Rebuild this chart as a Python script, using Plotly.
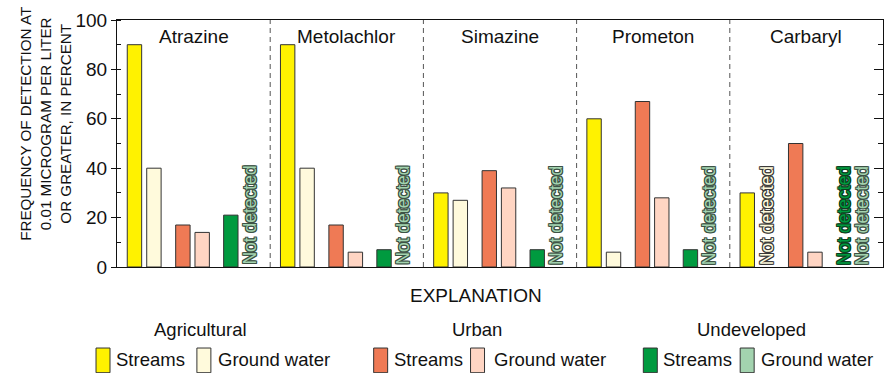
import plotly.graph_objects as go

# Pesticides and detection frequencies (percent), None = not detected
pesticides = ["Atrazine", "Metolachlor", "Simazine", "Prometon", "Carbaryl"]
ag_streams = [90, 90, 30, 60, 30]
ag_ground = [40, 40, 27, 6, None]
urban_streams = [17, 17, 39, 67, 50]
urban_ground = [14, 6, 32, 28, 6]
undev_streams = [21, 7, 7, 7, None]
undev_ground = [None, None, None, None, None]

y_ticks = [0, 20, 40, 60, 80, 100]

FONT = "Liberation Sans, Arial, Helvetica, sans-serif"

# series definitions: values, fill colour, slot offset within a panel
series = [
    ("Agricultural", "Streams", ag_streams, "#FFF200", 0.114),
    ("Agricultural", "Ground water", ag_ground, "#FFFADC", 0.241),
    ("Urban", "Streams", urban_streams, "#EF7A55", 0.430),
    ("Urban", "Ground water", urban_ground, "#FFD5C3", 0.556),
    ("Undeveloped", "Streams", undev_streams, "#009A3F", 0.743),
    ("Undeveloped", "Ground water", undev_ground, "#A3D3AF", 0.862),
]
BAR_W = 0.094

# text styling for "Not detected" labels per series
nd_style = {
    ("Agricultural", "Ground water"): ("#FFFADC", "#3a3a3a"),
    ("Undeveloped", "Streams"): ("#009A3F", "#0b4020"),
    ("Undeveloped", "Ground water"): ("#A3D3AF", "#3c5244"),
}

# plot-area geometry in pixels (used for the explanation block)
L, T, PW, PH = 117, 17, 767, 250
FIG_W, FIG_H = 894, 373


def px_x(px):
    return (px - L) / PW


def px_y(py):
    return (T + PH - py) / PH


fig = go.Figure()
annotations = []
shapes = []

for group, kind, values, color, offset in series:
    xs, ys = [], []
    for i, v in enumerate(values):
        if v is None:
            fill, edge = nd_style[(group, kind)]
            shadow = ", ".join(
                f"{dx}px {dy}px 0 {edge}"
                for dx, dy in [(1, 0), (-1, 0), (0, 1), (0, -1), (1, 1), (-1, -1), (1, -1), (-1, 1)]
            )
            annotations.append(dict(
                x=i + offset, y=0, xref="x", yref="y",
                text="Not detected", textangle=-90, showarrow=False,
                xanchor="center", yanchor="bottom",
                font=dict(family=FONT, size=17.5, color=fill, shadow=shadow),
            ))
        else:
            xs.append(i + offset)
            ys.append(v)
    fig.add_trace(go.Bar(
        x=xs, y=ys, width=BAR_W, name=f"{group} {kind}",
        marker=dict(color=color, line=dict(color="#333333", width=1)),
        showlegend=False, hoverinfo="skip",
    ))

# panel titles and dashed separators
for i, name in enumerate(pesticides):
    annotations.append(dict(
        x=i + 0.5, y=1, xref="x", yref="paper", yanchor="top", yshift=-4,
        text=name, showarrow=False, font=dict(family=FONT, size=19, color="#111"),
    ))
    if i > 0:
        shapes.append(dict(
            type="line", xref="x", yref="paper", x0=i, x1=i, y0=0, y1=1,
            line=dict(color="#555555", width=1, dash="5px,4px"),
        ))

# y-axis title (three lines)
annotations.append(dict(
    x=px_x(46), y=px_y(122), xref="paper", yref="paper",
    text="FREQUENCY OF DETECTION AT<br>0.01 MICROGRAM PER LITER<br>OR GREATER, IN PERCENT",
    textangle=-90, showarrow=False, xanchor="center", yanchor="middle",
    font=dict(family=FONT, size=15.2, color="#111"),
))

# explanation block
annotations.append(dict(
    x=px_x(476), y=px_y(296), xref="paper", yref="paper", text="EXPLANATION",
    showarrow=False, xanchor="center", yanchor="middle",
    font=dict(family=FONT, size=19, color="#111"),
))

legend_groups = [
    ("Agricultural", 201, [(96, 114, "#FFF200", "Streams"), (197, 216, "#FFFADC", "Ground water")]),
    ("Urban", 477, [(374, 392, "#EF7A55", "Streams"), (471, 492, "#FFD5C3", "Ground water")]),
    ("Undeveloped", 752, [(644, 662, "#009A3F", "Streams"), (741, 760, "#A3D3AF", "Ground water")]),
]
for title, cx, items in legend_groups:
    annotations.append(dict(
        x=px_x(cx), y=px_y(330), xref="paper", yref="paper", text=title,
        showarrow=False, xanchor="center", yanchor="middle",
        font=dict(family=FONT, size=18.5, color="#111"),
    ))
    for sx, tx, col, label in items:
        shapes.append(dict(
            type="rect", xref="paper", yref="paper",
            x0=px_x(sx), x1=px_x(sx + 14), y0=px_y(349), y1=px_y(374),
            fillcolor=col, line=dict(color="#333333", width=1),
        ))
        annotations.append(dict(
            x=px_x(tx), y=px_y(361), xref="paper", yref="paper", text=label,
            showarrow=False, xanchor="left", yanchor="middle",
            font=dict(family=FONT, size=18.5, color="#111"),
        ))

fig.update_layout(
    width=FIG_W, height=FIG_H,
    margin=dict(l=L, r=FIG_W - L - PW, t=T, b=FIG_H - T - PH),
    paper_bgcolor="white", plot_bgcolor="white",
    font=dict(family=FONT, size=18, color="#111"),
    annotations=annotations, shapes=shapes,
    barmode="overlay",
    xaxis=dict(
        range=[0, len(pesticides)], showticklabels=False, ticks="",
        showgrid=False, zeroline=False,
        showline=True, mirror=True, linecolor="#111", linewidth=1,
    ),
    yaxis=dict(
        range=[0, 100], tickvals=y_ticks, ticks="outside", ticklen=5,
        tickcolor="#111", tickwidth=1,
        minor=dict(dtick=10, ticks="inside", ticklen=4, tickcolor="#111", showgrid=False),
        showgrid=False, zeroline=False,
        showline=True, mirror=True, linecolor="#111", linewidth=1,
        tickfont=dict(family=FONT, size=19, color="#111"),
    ),
    yaxis2=dict(
        range=[0, 100], overlaying="y", side="right", tickvals=y_ticks,
        ticks="inside", ticklen=9, tickcolor="#111", showticklabels=False,
        minor=dict(dtick=10, ticks="inside", ticklen=5, tickcolor="#111", showgrid=False),
        showgrid=False, zeroline=False, showline=False,
    ),
)

# invisible trace to activate the right-hand tick axis
fig.add_trace(go.Scatter(x=[0], y=[0], yaxis="y2", mode="markers",
                         marker=dict(opacity=0), showlegend=False, hoverinfo="skip"))

fig.write_html("out.html")
